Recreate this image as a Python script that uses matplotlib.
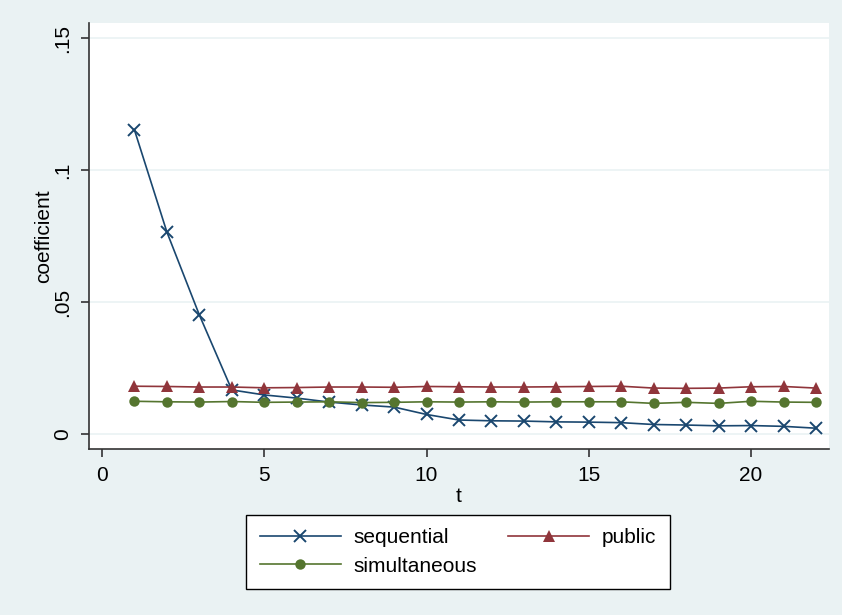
import matplotlib
matplotlib.use("Agg")
import matplotlib.pyplot as plt

plt.rcParams['font.family'] = ['Liberation Sans', 'DejaVu Sans']

# Dados
t = list(range(1, 23))
sequential = [0.1152, 0.0765, 0.0451, 0.0167, 0.0148, 0.0136, 0.0121, 0.0110,
              0.0102, 0.0074, 0.0053, 0.0050, 0.0049, 0.0046, 0.0045, 0.0043,
              0.0036, 0.0034, 0.0031, 0.0032, 0.0029, 0.0022]
public = [0.0181, 0.0180, 0.0178, 0.0178, 0.0175, 0.0176, 0.0178, 0.0178,
          0.0177, 0.0180, 0.0179, 0.0178, 0.0178, 0.0179, 0.0180, 0.0181,
          0.0174, 0.0173, 0.0174, 0.0179, 0.0180, 0.0174]
simultaneous = [0.0124, 0.0122, 0.0121, 0.0123, 0.0120, 0.0121, 0.0122, 0.0119,
                0.0120, 0.0122, 0.0121, 0.0122, 0.0121, 0.0122, 0.0122, 0.0122,
                0.0116, 0.0120, 0.0116, 0.0124, 0.0121, 0.0120]

xticks = [0, 5, 10, 15, 20]
yticks = [0, 0.05, 0.1, 0.15]
ytick_labels = ['0', '.05', '.1', '.15']

bg = '#eaf2f3'
fig = plt.figure(figsize=(8.42, 6.15), dpi=100, facecolor=bg)
ax = fig.add_axes([89 / 842, 1 - 449 / 615, 740 / 842, 426 / 615])
ax.set_facecolor('white')

# Linhas com marcadores
l_seq, = ax.plot(t, sequential, color='#1a476f', lw=1.2, marker='x', ms=8,
                 mew=1.4, label='sequential', zorder=3)
l_pub, = ax.plot(t, public, color='#90353b', lw=1.2, marker='^', ms=8, mew=0,
                 label='public', zorder=3)
l_sim, = ax.plot(t, simultaneous, color='#55752f', lw=1.2, marker='o', ms=7.5,
                 mew=0, label='simultaneous', zorder=3)

ax.set_xlim(-0.40, 22.40)
ax.set_ylim(-0.00568, 0.1557)
ax.set_xticks(xticks)
ax.set_yticks(yticks)
ax.set_yticklabels(ytick_labels, rotation=90, va='center')
ax.grid(axis='y', color='#eaf2f3', lw=1.2, zorder=0)
ax.set_axisbelow(True)

for s in ['top', 'right']:
    ax.spines[s].set_visible(False)
for s in ['left', 'bottom']:
    ax.spines[s].set_color('#333333')
    ax.spines[s].set_linewidth(1.2)
ax.tick_params(colors='#333333', labelcolor='black', length=6, width=1.2,
               labelsize=15, pad=6)

ax.set_xlabel('t', fontsize=15, labelpad=2)
ax.set_ylabel('coefficient', fontsize=15, labelpad=0)

# Legenda (ordem por linhas: sequential, public / simultaneous)
leg = fig.legend([l_seq, l_sim, l_pub], ['sequential', 'simultaneous', 'public'],
                 loc='center', bbox_to_anchor=(458 / 842, 1 - 552 / 615),
                 ncol=2, fontsize=15, frameon=True, fancybox=False,
                 facecolor='white', framealpha=1, edgecolor='black',
                 handlelength=3.9, handletextpad=0.6, columnspacing=1.5,
                 labelspacing=0.45, borderpad=0.65)
leg.get_frame().set_linewidth(1.0)

fig.savefig('out.png', dpi=100, facecolor=bg)
